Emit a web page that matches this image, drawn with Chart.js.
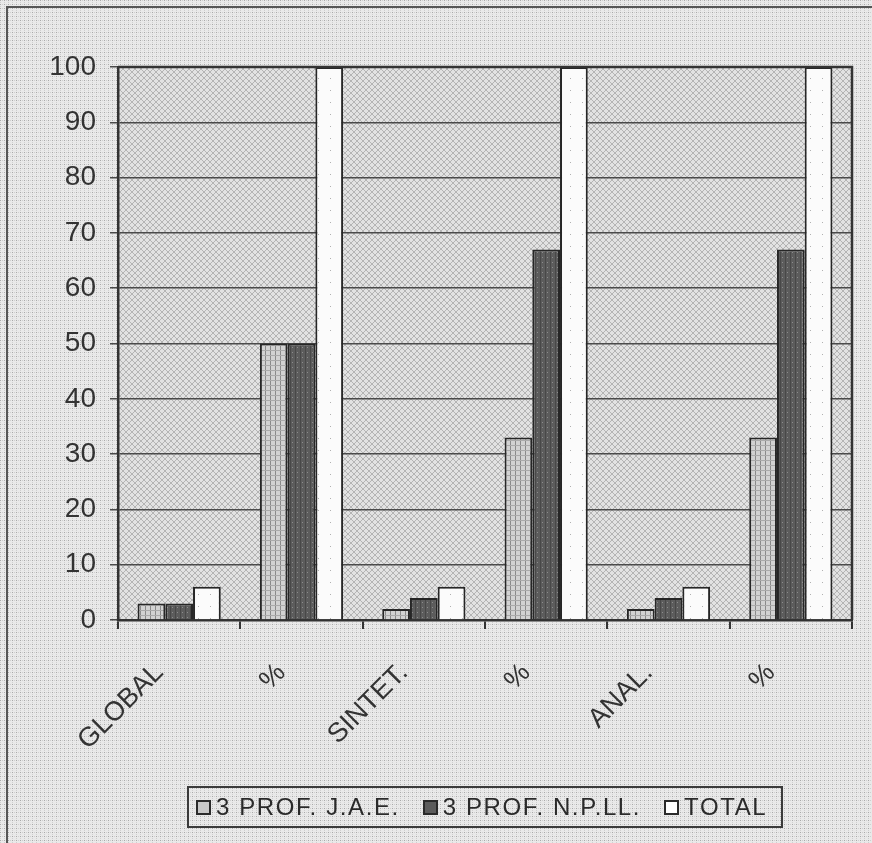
<!DOCTYPE html>
<html>
<head>
<meta charset="utf-8">
<script src="https://cdn.jsdelivr.net/npm/chart.js@4/dist/chart.umd.min.js"></script>
<style>
  html, body { margin: 0; padding: 0; background: #e6e6e6; }
  #wrap { position: relative; width: 872px; height: 843px; }
  #legend {
    position: absolute; left: 187px; top: 786px;
    border: 2px solid #3a3a3a;
    font-family: "Liberation Sans", Arial, sans-serif; font-size: 24px; color: #2a2a2a;
    display: flex; align-items: center; justify-content: flex-start; gap: 23px;
    padding-left: 7px; box-sizing: border-box; width: 596px; height: 42px;
    white-space: nowrap; letter-spacing: 1.6px;
  }
  .item { display: flex; align-items: center; gap: 5px; }
  .sw { width: 11px; height: 11px; border: 2px solid #2a2a2a; display: inline-block; }
</style>
</head>
<body>
<div id="wrap">
  <canvas id="c" width="872" height="843"></canvas>
  <div id="legend"></div>
</div>
<script>
const categories = ["GLOBAL", "%", "SINTET.", "%", "ANAL.", "%"];
const seriesNames = ["3 PROF. J.A.E.", "3 PROF. N.P.LL.", "TOTAL"];
const profJAE = [3, 50, 2, 33, 2, 33];
const profNPLL = [3, 50, 4, 67, 4, 67];
const total = [6, 100, 6, 100, 6, 100];
const yTicks = [0, 10, 20, 30, 40, 50, 60, 70, 80, 90, 100];

function makePattern(size, draw) {
  const c = document.createElement('canvas');
  c.width = size; c.height = size;
  const x = c.getContext('2d');
  draw(x, size);
  return document.getElementById('c').getContext('2d').createPattern(c, 'repeat');
}
const outerPat = makePattern(4, (x, s) => {
  x.fillStyle = '#e9e9e9'; x.fillRect(0, 0, s, s);
  x.fillStyle = '#a9a9a9'; x.fillRect(0, 0, 1, 1);
  x.fillStyle = '#cfcfcf'; x.fillRect(2, 0, 1, 1); x.fillRect(0, 2, 1, 1);
});
const plotPat = makePattern(6, (x, s) => {
  x.fillStyle = '#e2e2e2'; x.fillRect(0, 0, s, s);
  x.fillStyle = '#b4b4b4';
  for (let i = 0; i < s; i++) { x.fillRect(i, i, 1, 1); x.fillRect(s - 1 - i, i, 1, 1); }
});
const jaePat = makePattern(5, (x, s) => {
  x.fillStyle = '#d2d2d2'; x.fillRect(0, 0, s, s);
  x.fillStyle = '#8a8a8a'; x.fillRect(0, 0, 1, s);
  x.fillStyle = '#aaaaaa'; x.fillRect(0, 0, s, 1);
});
const npllPat = makePattern(5, (x, s) => {
  x.fillStyle = '#5c5c5c'; x.fillRect(0, 0, s, s);
  x.fillStyle = '#8c8c8c'; x.fillRect(2, 2, 1, 1);
  x.fillStyle = '#484848'; x.fillRect(0, 0, 1, s);
});
const totalPat = makePattern(12, (x, s) => {
  x.fillStyle = '#fbfbfb'; x.fillRect(0, 0, s, s);
  x.fillStyle = '#b0b0b0'; x.fillRect(6, 6, 1, 1);
});

const bgPlugin = {
  id: 'bg',
  beforeDraw(chart) {
    const ctx = chart.ctx, a = chart.chartArea;
    ctx.save();
    ctx.fillStyle = outerPat; ctx.fillRect(0, 0, chart.width, chart.height);
    ctx.fillStyle = plotPat; ctx.fillRect(a.left, a.top, a.right - a.left, a.bottom - a.top);
    ctx.strokeStyle = '#555'; ctx.lineWidth = 2;
    ctx.beginPath(); ctx.moveTo(7, chart.height); ctx.lineTo(7, 7); ctx.lineTo(chart.width, 7); ctx.stroke();
    ctx.restore();
  },
  afterDraw(chart) {
    const ctx = chart.ctx, a = chart.chartArea;
    ctx.save();
    ctx.strokeStyle = '#333'; ctx.lineWidth = 2.5;
    ctx.beginPath(); ctx.moveTo(a.left, a.top); ctx.lineTo(a.right, a.top); ctx.lineTo(a.right, a.bottom); ctx.stroke();
    ctx.restore();
  }
};

const fills = [jaePat, npllPat, totalPat];
const swatchCss = ['#c8c8c8', '#5c5c5c', '#ffffff'];
const seriesVals = [profJAE, profNPLL, total];

new Chart(document.getElementById('c'), {
  type: 'bar',
  data: {
    labels: categories,
    datasets: seriesVals.map((v, i) => ({
      label: seriesNames[i], data: v, backgroundColor: fills[i],
      borderColor: '#262626', borderWidth: 2
    }))
  },
  options: {
    responsive: false, animation: false, devicePixelRatio: 1,
    layout: { padding: { left: 0, top: 67, right: 20, bottom: 73 } },
    datasets: { bar: { categoryPercentage: 0.68, barPercentage: 1.0 } },
    plugins: { legend: { display: false }, tooltip: { enabled: false } },
    scales: {
      x: {
        afterFit(s) { s.height = 150; },
        grid: { drawOnChartArea: false, drawTicks: true, tickLength: 9, color: '#333', lineWidth: 2, offset: true },
        border: { display: true, color: '#333', width: 2.5 },
        ticks: { maxRotation: 45, minRotation: 45, color: '#333', padding: 28, labelOffset: -20,
          font: { family: '"Liberation Sans", Arial, sans-serif', size: 27 } }
      },
      y: {
        min: 0, max: 100,
        afterFit(s) { s.width = 118; },
        afterBuildTicks(s) { s.ticks = yTicks.map(v => ({ value: v })); },
        grid: { color: '#4a4a4a', lineWidth: 1.5, tickLength: 8 },
        border: { display: true, color: '#333', width: 2.5 },
        ticks: { color: '#333', padding: 14,
          font: { family: '"Liberation Sans", Arial, sans-serif', size: 28 } }
      }
    }
  },
  plugins: [bgPlugin]
});

const leg = document.getElementById('legend');
seriesNames.forEach((n, i) => {
  const it = document.createElement('span'); it.className = 'item';
  const sw = document.createElement('span'); sw.className = 'sw'; sw.style.background = swatchCss[i];
  const t = document.createElement('span'); t.textContent = n;
  it.appendChild(sw); it.appendChild(t); leg.appendChild(it);
});
</script>
</body>
</html>
